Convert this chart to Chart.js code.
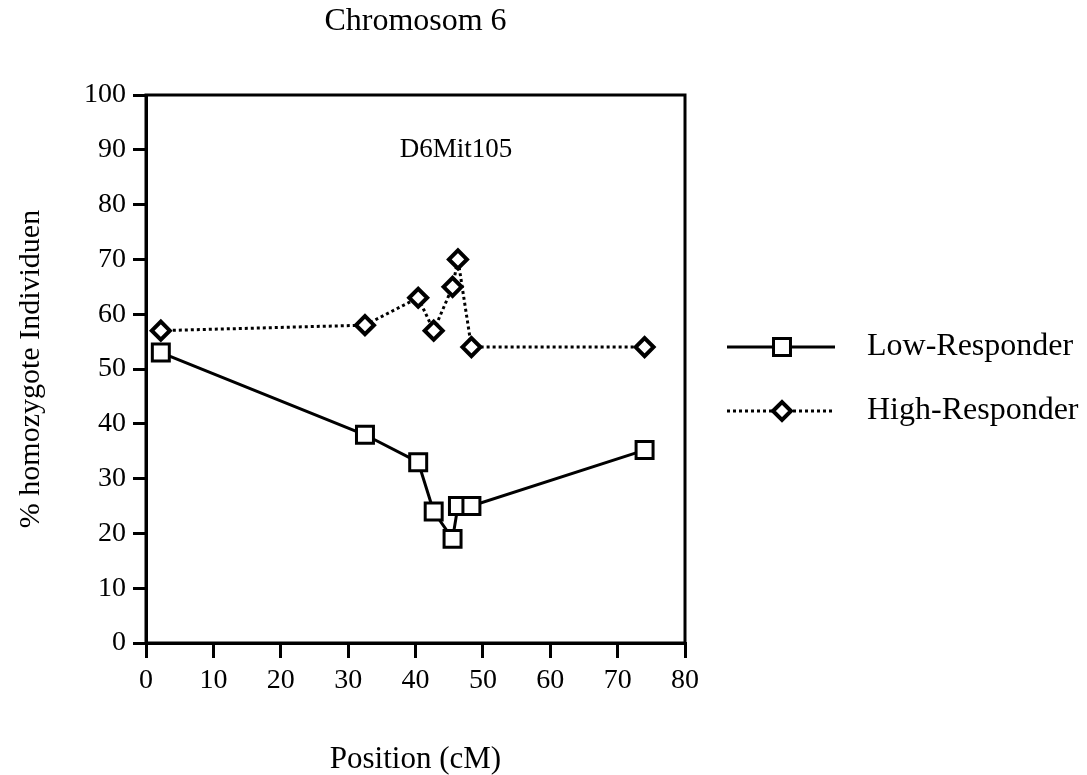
<!DOCTYPE html>
<html>
<head>
<meta charset="utf-8">
<script src="https://cdn.jsdelivr.net/npm/chart.js@4.4.1/dist/chart.umd.min.js"></script>
<style>
  html, body { margin: 0; padding: 0; background: #fff; }
  #wrap { width: 1087px; height: 775px; }
</style>
</head>
<body>
<div id="wrap"><canvas id="chart" width="1087" height="775"></canvas></div>
<script>
const positions = [2.2, 32.5, 40.4, 42.7, 45.5, 46.3, 48.3, 74.0];
const lowResponder = [53, 38, 33, 24, 19, 25, 25, 35.2];
const highResponder = [57, 58, 63, 57, 65, 70, 54, 54];
const xTicks = [0, 10, 20, 30, 40, 50, 60, 70, 80];
const yTicks = [0, 10, 20, 30, 40, 50, 60, 70, 80, 90, 100];
const markerLabel = { text: 'D6Mit105', x: 46, y: 90 };

const serif = '"Liberation Serif", "Times New Roman", Times, serif';

const toPoints = ys => positions.map((x, i) => ({ x: x, y: ys[i] }));

// frame on all four sides of the plot
const framePlugin = {
    id: 'frame',
    beforeDatasetsDraw(chart) {
        const { ctx, chartArea: a } = chart;
        ctx.save();
        ctx.strokeStyle = '#000';
        ctx.lineWidth = 3;
        ctx.strokeRect(a.left, a.top, a.right - a.left, a.bottom - a.top);
        ctx.restore();
    }
};

const annotationPlugin = {
    id: 'annotation',
    afterDraw(chart) {
        const { ctx, scales } = chart;
        ctx.save();
        ctx.fillStyle = '#000';
        ctx.font = '27px ' + serif;
        ctx.textAlign = 'center';
        ctx.textBaseline = 'middle';
        ctx.fillText(markerLabel.text, scales.x.getPixelForValue(markerLabel.x), scales.y.getPixelForValue(markerLabel.y));
        ctx.restore();
    }
};

const sideLegend = {
    id: 'sideLegend',
    afterDraw(chart) {
        const ctx = chart.ctx;
        const rows = [347, 411];
        chart.data.datasets.forEach((ds, i) => {
            const y = rows[i];
            ctx.save();
            ctx.strokeStyle = '#000';
            ctx.lineWidth = ds.borderWidth;
            ctx.setLineDash(ds.borderDash || []);
            ctx.beginPath();
            ctx.moveTo(727, y);
            ctx.lineTo(835, y);
            ctx.stroke();
            ctx.setLineDash([]);
            ctx.fillStyle = ds.pointBackgroundColor;
            ctx.strokeStyle = ds.pointBorderColor;
            ctx.lineWidth = ds.pointBorderWidth;
            Chart.helpers.drawPoint(ctx, {
                pointStyle: ds.pointStyle,
                radius: ds.pointRadius,
                borderWidth: ds.pointBorderWidth,
                rotation: 0
            }, 782, y);
            ctx.fillStyle = '#000';
            ctx.font = '32px ' + serif;
            ctx.textAlign = 'left';
            ctx.textBaseline = 'middle';
            ctx.fillText(ds.label, 867, y);
            ctx.restore();
        });
    }
};

new Chart(document.getElementById('chart'), {
    type: 'scatter',
    data: {
        datasets: [{
            label: 'Low-Responder',
            data: toPoints(lowResponder),
            showLine: true,
            borderColor: '#000',
            borderWidth: 3,
            pointStyle: 'rect',
            pointRadius: 12,
            pointBorderWidth: 3,
            pointBackgroundColor: '#fff',
            pointBorderColor: '#000'
        }, {
            label: 'High-Responder',
            data: toPoints(highResponder),
            showLine: true,
            borderColor: '#000',
            borderWidth: 3,
            borderDash: [3, 3],
            pointStyle: 'rectRot',
            pointRadius: 9,
            pointBorderWidth: 4,
            pointBackgroundColor: '#fff',
            pointBorderColor: '#000'
        }]
    },
    options: {
        responsive: false,
        animation: false,
        layout: { padding: { left: 0, right: 402, top: 0, bottom: 0 } },
        plugins: {
            legend: { display: false },
            tooltip: { enabled: false },
            title: {
                display: true,
                text: 'Chromosom 6',
                fullSize: false,
                color: '#000',
                font: { family: serif, size: 32, weight: 'normal', lineHeight: 1.2 },
                padding: { top: 2, bottom: 54.6 }
            }
        },
        scales: {
            x: {
                type: 'linear',
                min: 0,
                max: 80,
                afterBuildTicks: scale => { scale.ticks = xTicks.map(v => ({ value: v })); },
                afterFit: scale => { scale.height = 132; },
                border: { display: true, color: '#000', width: 3 },
                grid: { drawOnChartArea: false, drawTicks: true, tickLength: 15, color: '#000', lineWidth: 3 },
                ticks: { color: '#000', padding: 6, font: { family: serif, size: 28 } },
                title: {
                    display: true,
                    text: 'Position (cM)',
                    color: '#000',
                    font: { family: serif, size: 31, lineHeight: 1 },
                    padding: { top: 0, bottom: 0 }
                }
            },
            y: {
                type: 'linear',
                min: 0,
                max: 100,
                afterBuildTicks: scale => { scale.ticks = yTicks.map(v => ({ value: v })); },
                afterFit: scale => { scale.width = 146; },
                border: { display: true, color: '#000', width: 3 },
                grid: { drawOnChartArea: false, drawTicks: true, tickLength: 13, color: '#000', lineWidth: 3 },
                ticks: { color: '#000', padding: 7, font: { family: serif, size: 28 } },
                title: {
                    display: true,
                    text: '% homozygote Individuen',
                    color: '#000',
                    font: { family: serif, size: 30, lineHeight: 1.2 },
                    padding: { top: 13, bottom: 0 }
                }
            }
        }
    },
    plugins: [framePlugin, annotationPlugin, sideLegend]
});
</script>
</body>
</html>
